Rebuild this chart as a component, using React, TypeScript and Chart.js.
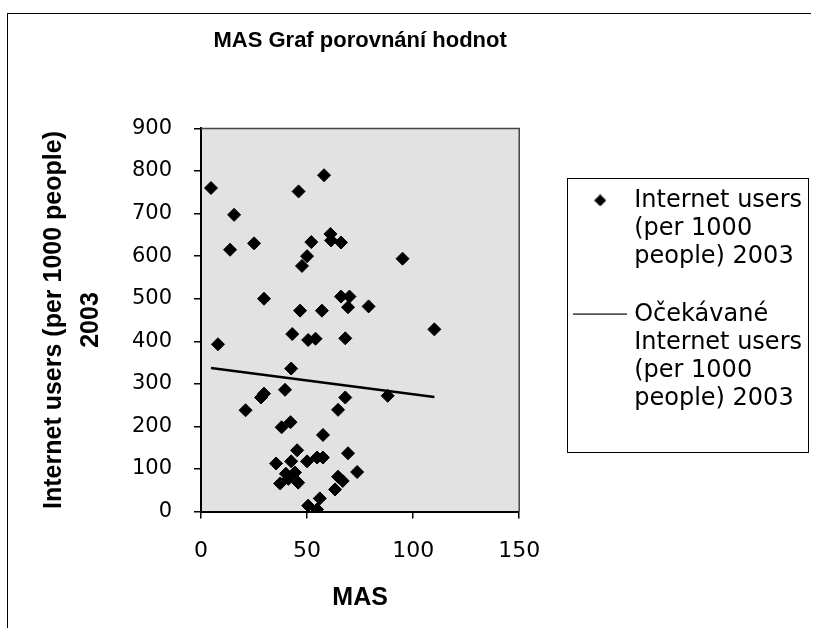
import React, { useEffect, useRef } from 'react';
import { Chart, registerables } from 'chart.js';

Chart.register(...registerables);

// ---------- data ----------
const chartTitle = 'MAS Graf porovnání hodnot';
const xAxisTitle = 'MAS';
const yAxisTitleLines = ['Internet users (per 1000 people)', '2003'];
const seriesLabel = 'Internet users (per 1000 people) 2003';
const trendLabel = 'Očekávané Internet users (per 1000 people) 2003';
const seriesLegendLines = ['Internet users', '(per 1000', 'people) 2003'];
const trendLegendLines = ['Očekávané', 'Internet users', '(per 1000', 'people) 2003'];

const masValues = [
  4.7, 58, 46, 15.6, 13.7, 25, 61, 61.3, 66, 52,
  50, 47.6, 95, 29.7, 46.7, 57, 66, 70, 69.3, 79,
  110, 43, 50.5, 54, 68, 8, 42.5, 39.6, 29.7, 28.3,
  68, 88, 21, 64.6, 42.2, 38, 57.5, 45.3, 69.3, 35.4,
  42.5, 50, 54.7, 57.5, 73.6, 44.3, 40, 41.2, 37.3, 45.8,
  64.6, 66.8, 63.2, 56, 50.5, 54.7,
];
const internetUsers = [
  760, 790, 752, 697, 615, 630, 652, 637, 632, 633,
  600, 577, 594, 500, 472, 472, 505, 505, 480, 482,
  428, 417, 403, 406, 407, 393, 336, 286, 277, 268,
  268, 272, 238, 239, 210, 198, 180, 144, 137, 113,
  118, 118, 127, 127, 93, 92, 89, 77, 66, 68,
  82, 72, 52, 31, 14, 5,
];
const trendMas = [4.7, 110];
const trendUsers = [337, 269];

const xMin = 0;
const xMax = 150;
const xStep = 50;
const yMin = 0;
const yMax = 900;
const yStep = 100;

function makeDiamond(): HTMLCanvasElement {
  const c = document.createElement('canvas');
  c.width = 12;
  c.height = 12;
  const g = c.getContext('2d')!;
  g.fillStyle = '#000';
  g.beginPath();
  g.moveTo(0, 6);
  g.lineTo(6, 0);
  g.lineTo(12, 6);
  g.lineTo(6, 12);
  g.closePath();
  g.fill();
  return c;
}

function makeLine(): HTMLCanvasElement {
  const c = document.createElement('canvas');
  c.width = 54;
  c.height = 2;
  const g = c.getContext('2d')!;
  g.fillStyle = '#000';
  g.fillRect(0, 0.5, 54, 1.3);
  return c;
}

export default function App() {
  const ref = useRef<HTMLCanvasElement | null>(null);

  useEffect(() => {
    if (!ref.current) return;
    Chart.defaults.font.family = "'DejaVu Sans', sans-serif";
    Chart.defaults.color = '#000';

    const diamondImg = makeDiamond();
    const lineImg = makeLine();

    const points = masValues.map((x, i) => ({ x, y: internetUsers[i] }));
    const trend = trendMas.map((x, i) => ({ x, y: trendUsers[i] }));

    const decor = {
      id: 'decor',
      beforeDraw(chart: any) {
        const { ctx, chartArea: a } = chart;
        ctx.save();
        ctx.fillStyle = '#e2e2e2';
        ctx.fillRect(a.left, a.top, a.right - a.left, a.bottom - a.top);
        ctx.restore();
      },
      afterDraw(chart: any) {
        const { ctx, chartArea: a, legend } = chart;
        ctx.save();
        ctx.strokeStyle = '#444';
        ctx.lineWidth = 1.5;
        ctx.beginPath();
        ctx.moveTo(a.left, a.top);
        ctx.lineTo(a.right, a.top);
        ctx.lineTo(a.right, a.bottom);
        ctx.stroke();
        if (legend) {
          ctx.strokeStyle = '#000';
          ctx.lineWidth = 1;
          const l = Math.round(legend.left + 19) + 0.5;
          const r = Math.round(legend.right - 4) + 0.5;
          const t = Math.round(legend.top + 50) + 0.5;
          const b = t + 274;
          ctx.strokeRect(l, t, r - l, b - t);
        }
        ctx.restore();
      },
    };

    const chart = new Chart(ref.current, {
      type: 'scatter',
      data: {
        datasets: [
          {
            label: seriesLabel,
            data: points,
            pointStyle: 'rectRot',
            pointRadius: 6.5,
            pointHoverRadius: 6.5,
            backgroundColor: '#000',
            borderColor: '#000',
            borderWidth: 1,
            showLine: false,
          },
          {
            label: trendLabel,
            data: trend,
            showLine: true,
            pointRadius: 0,
            borderColor: '#000',
            backgroundColor: '#000',
            borderWidth: 2.5,
          },
        ],
      },
      options: {
        responsive: false,
        animation: false,
        devicePixelRatio: 1,
        layout: { padding: { top: 20, left: 30, right: 6, bottom: 20 } },
        scales: {
          x: {
            type: 'linear',
            min: xMin,
            max: xMax,
            ticks: {
              stepSize: xStep,
              padding: 19,
              maxRotation: 0,
              autoSkip: false,
              font: { size: 22 },
              color: '#000',
            },
            grid: { drawOnChartArea: false, tickLength: 7, color: '#000', lineWidth: 1.5 },
            border: { display: true, color: '#000', width: 2 },
            title: {
              display: true,
              text: xAxisTitle,
              font: { family: "'Liberation Sans', Arial, sans-serif", weight: 'bold', size: 25, lineHeight: 1.2 },
              padding: { top: 0, bottom: 4 },
              color: '#000',
            },
          },
          y: {
            type: 'linear',
            min: yMin,
            max: yMax,
            ticks: {
              stepSize: yStep,
              padding: 22,
              font: { size: 21 },
              color: '#000',
            },
            grid: { drawOnChartArea: false, tickLength: 7, color: '#000', lineWidth: 1.5 },
            border: { display: true, color: '#000', width: 2 },
            title: {
              display: true,
              text: yAxisTitleLines,
              font: { family: "'Liberation Sans', Arial, sans-serif", weight: 'bold', size: 25, lineHeight: 1.46 },
              padding: { top: 6, bottom: 22 },
              color: '#000',
            },
            afterFit: (s: any) => {
              s.width = 171;
            },
          },
          gap: {
            type: 'linear',
            position: 'right',
            display: true,
            grid: { display: false },
            border: { display: false },
            ticks: { display: false },
            afterFit: (s: any) => {
              s.width = 29;
            },
          },
        },
        plugins: {
          title: {
            display: true,
            text: chartTitle,
            fullSize: false,
            color: '#000',
            font: { family: "'Liberation Sans', Arial, sans-serif", weight: 'bold', size: 22, lineHeight: 1.2 },
            padding: { top: 8, bottom: 74 },
          },
          legend: {
            display: true,
            position: 'right',
            align: 'start',
            fullSize: false,
            maxWidth: 300,
            title: { display: true, text: ' ', font: { size: 10, lineHeight: 1 }, padding: { top: 20, bottom: 0 } },
            labels: {
              usePointStyle: true,
              pointStyleWidth: 44,
              padding: 30,
              color: '#000',
              font: { family: "'DejaVu Sans', sans-serif", size: 24, lineHeight: 28 / 24 },
              generateLabels: () => [
                {
                  text: seriesLegendLines as any,
                  pointStyle: diamondImg as any,
                  fillStyle: '#000',
                  strokeStyle: '#000',
                  lineWidth: 0,
                  hidden: false,
                  datasetIndex: 0,
                  fontColor: '#000',
                },
                {
                  text: trendLegendLines as any,
                  pointStyle: lineImg as any,
                  fillStyle: '#000',
                  strokeStyle: '#000',
                  lineWidth: 0,
                  hidden: false,
                  datasetIndex: 1,
                  fontColor: '#000',
                },
              ],
            },
          },
          tooltip: { enabled: false },
        },
      },
      plugins: [decor],
    } as any);

    return () => chart.destroy();
  }, []);

  return (
    <div style={{ position: 'absolute', left: 0, top: 0, width: 818, height: 637, background: '#fff' }}>
      <div
        style={{
          position: 'absolute',
          left: 7,
          top: 13,
          width: 804,
          height: 615,
          borderLeft: '1px solid #000',
          borderTop: '1px solid #000',
          boxSizing: 'border-box',
        }}
      />
      <canvas ref={ref} width={818} height={637} style={{ position: 'absolute', left: 0, top: 0 }} />
    </div>
  );
}
